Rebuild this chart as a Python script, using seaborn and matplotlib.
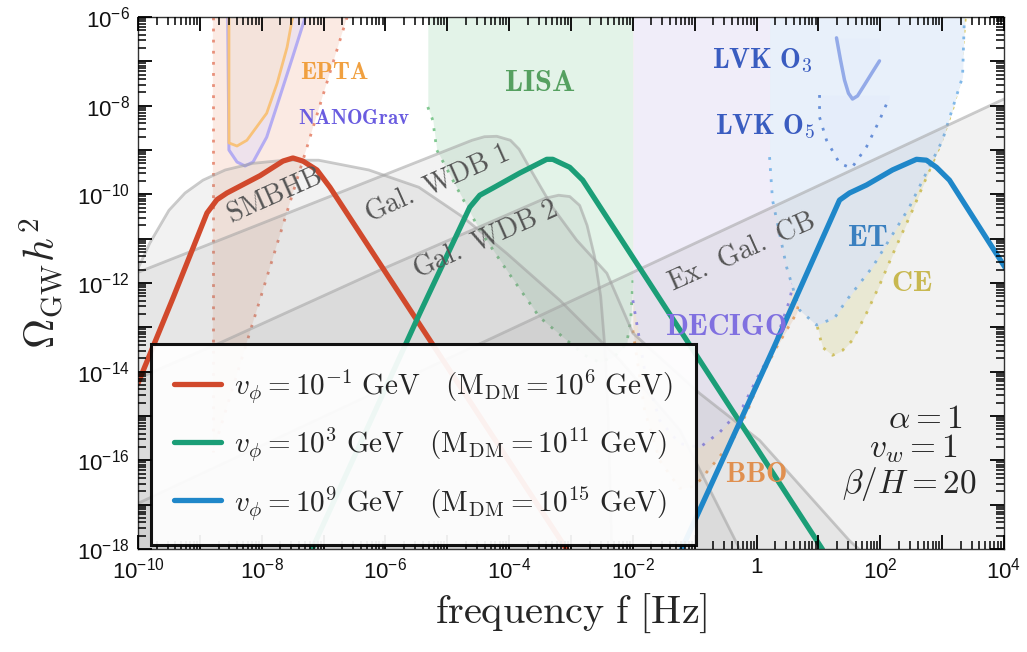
import numpy as np
import pandas as pd
import matplotlib
matplotlib.use("Agg")
import matplotlib.pyplot as plt
from matplotlib import ticker
import seaborn as sns

# ---------------- data (log10 f [Hz], log10 Omega_GW h^2) ----------------
# Signal spectra
red_logf = [-10.0, -9.435, -8.885, -8.724, -8.563, -8.029, -7.657, -7.496, -7.334, -7.108, -6.898, -3.069]
red_logo = [-14.26, -12.34, -10.42, -10.12, -9.97, -9.58, -9.25, -9.18, -9.25, -9.45, -9.84, -18.01]
green_logf = [-7.189, -5.444, -4.637, -4.475, -4.265, -3.829, -3.392, -3.295, -3.021, -2.811, 1.066]
green_logo = [-18.01, -12.68, -10.29, -10.02, -9.86, -9.52, -9.21, -9.21, -9.39, -9.68, -18.01]
blue_logf = [-1.212, 0.258, 1.341, 1.502, 1.777, 2.197, 2.585, 2.746, 2.908, 3.118, 4.087]
blue_logo = [-18.01, -13.52, -10.13, -9.97, -9.79, -9.45, -9.21, -9.23, -9.39, -9.68, -11.80]
signal_labels = [
    r"$v_\phi = 10^{-1}\ \mathrm{GeV}\quad(\mathrm{M_{DM}} = 10^{6}\ \mathrm{GeV})$",
    r"$v_\phi = 10^{3}\ \mathrm{GeV}\quad(\mathrm{M_{DM}} = 10^{11}\ \mathrm{GeV})$",
    r"$v_\phi = 10^{9}\ \mathrm{GeV}\quad(\mathrm{M_{DM}} = 10^{15}\ \mathrm{GeV})$",
]
signal_colors = ["#d1492c", "#1b9e77", "#1f87c9"]

# Astrophysical foregrounds
smbhb_logf = [-10.0, -9.81, -9.50, -9.24, -8.95, -8.59, -8.14, -7.63, -7.08, -6.27, -5.46, -4.75, -4.04, -3.18, -2.21, -1.24, -0.27]
smbhb_logo = [-11.67, -11.10, -10.36, -9.97, -9.68, -9.45, -9.30, -9.23, -9.23, -9.45, -9.84, -10.51, -11.33, -12.39, -13.74, -15.32, -18.01]
wdb1_logf = [-10.0, -4.60, -4.40, -4.20, -3.98, -3.84, -3.65, -3.30, -2.91, -2.42, -2.00, -0.92, 0.05, 1.50, 1.66]
wdb1_logo = [-11.76, -8.78, -8.70, -8.69, -8.78, -8.98, -9.45, -10.29, -11.03, -11.78, -13.13, -14.49, -15.55, -17.81, -18.01]
wdb2_logf = [-10.0, -8.69, -6.09, -3.42, -3.20, -3.02, -2.86, -2.74, -2.62, -2.52, -2.45, -2.40, -2.34]
wdb2_logo = [-14.15, -13.36, -11.71, -10.09, -10.02, -10.05, -10.25, -10.70, -11.40, -12.30, -13.50, -15.00, -18.01]
exgal_logf = [-10.0, 4.0]
exgal_logo = [-16.97, -7.85]

# Detector sensitivity regions
pta_logf = [-8.79, -6.62, -8.79]
pta_logo = [-6.0, -6.0, -15.82]
epta_logf = [-8.53, -8.53, -8.40, -8.24, -7.92, -7.75, -7.59, -7.51, -7.50]
epta_logo = [-6.0, -8.84, -8.91, -8.78, -8.17, -7.49, -6.68, -6.07, -6.0]
nano_logf = [-8.55, -8.53, -8.40, -8.27, -8.14, -7.92, -7.71, -7.50, -7.30, -7.29]
nano_logo = [-6.0, -9.00, -9.27, -9.36, -9.27, -8.71, -7.81, -6.90, -6.02, -6.0]
lisa_logf = [-5.315, -5.234, -5.17, -4.85, -4.475, -4.04, -3.51, -3.07, -2.78, -2.54, -2.29, -2.10, -2.035, -2.0]
lisa_logo = [-8.03, -8.33, -9.00, -9.84, -10.81, -11.71, -12.77, -13.29, -13.63, -13.79, -13.65, -13.36, -12.84, -11.94]
decigo_logf = [-2.0, -1.81, -1.567, -1.244, -0.92, -0.598, -0.226, 0.048, 0.258, 0.533, 0.776, 0.985, 1.18]
decigo_logo = [-12.39, -13.97, -15.10, -15.62, -15.71, -15.37, -14.80, -14.04, -13.52, -12.39, -10.81, -9.00, -6.0]
bbo_logf = [-2.0, -1.81, -1.567, -1.244, -1.00, -0.646, -0.388, -0.162, 0.048, 0.323, 0.646, 0.889, 1.10, 1.31]
bbo_logo = [-13.07, -14.87, -16.00, -16.63, -16.59, -16.00, -15.55, -14.94, -14.19, -13.45, -12.68, -11.26, -9.00, -6.0]
et_logf = [0.21, 0.258, 0.485, 0.695, 0.969, 1.26, 1.454, 1.874, 2.47, 3.005, 3.33, 3.36]
et_logo = [-9.16, -10.13, -11.64, -12.61, -12.95, -12.79, -12.39, -11.64, -10.29, -8.78, -7.35, -6.0]
ce_logf = [0.776, 0.889, 0.969, 1.066, 1.228, 1.389, 1.551, 1.777, 1.987, 2.23, 2.52, 2.956, 3.166, 3.28, 3.344, 3.376]
ce_logo = [-11.26, -12.39, -12.91, -13.45, -13.63, -13.52, -13.29, -12.68, -12.05, -11.26, -10.36, -8.93, -8.10, -7.49, -6.52, -6.0]
o5_logf = [1.018, 1.018, 1.131, 1.341, 1.535, 1.777, 1.987, 2.148]
o5_logo = [-7.76, -8.26, -8.78, -9.30, -9.41, -8.93, -8.33, -7.81]
o5_top = -7.76
o3_logf = [1.292, 1.357, 1.421, 1.486, 1.551, 1.632, 1.745, 1.874, 1.987]
o3_logo = [-6.47, -6.97, -7.42, -7.72, -7.85, -7.78, -7.53, -7.24, -6.99]

# Text labels: (text, log10 f, log10 Omega, colour, size)
det_labels = [
    (r"$\mathbf{EPTA}$", -6.82, -7.26, "#f0a040", 17.5),
    (r"$\mathbf{NANOGrav}$", -6.51, -8.28, "#6a5ce0", 15),
    (r"$\mathbf{LISA}$", -3.51, -7.49, "#55a060", 22),
    (r"$\mathbf{LVK\ O_3}$", 0.10, -6.99, "#3a5cc0", 20),
    (r"$\mathbf{LVK\ O_5}$", 0.145, -8.48, "#3a5cc0", 20),
    (r"$\mathbf{DECIGO}$", -0.50, -13.0, "#8070e0", 21.5),
    (r"$\mathbf{ET}$", 1.79, -10.99, "#3a80c0", 21.5),
    (r"$\mathbf{CE}$", 2.50, -12.00, "#c8b850", 21),
    (r"$\mathbf{BBO}$", 0.0, -16.32, "#e09050", 20.5),
]
fg_labels = [
    (r"$\mathrm{SMBHB}$", -7.79, -10.02),
    (r"$\mathrm{Gal.\ WDB\ 1}$", -5.17, -9.75),
    (r"$\mathrm{Gal.\ WDB\ 2}$", -4.38, -11.03),
    (r"$\mathrm{Ex.\ Gal.\ CB}$", -0.24, -11.30),
]
params_lines = [r"$\alpha = 1$", r"$v_w = 1$", r"$\beta/H = 20$"]

# ---------------- style ----------------
sns.set_theme(style="ticks")
plt.rcParams.update({
    "mathtext.fontset": "cm",
    "font.family": ["Liberation Sans", "DejaVu Sans"],
    "axes.axisbelow": False,
})

fig, ax = plt.subplots(figsize=(10.27, 6.52), dpi=100)
fig.subplots_adjust(left=0.1344, right=0.9776, top=0.9739, bottom=0.158)
ax.set_xscale("log")
ax.set_yscale("log")

P = lambda a: 10.0 ** np.asarray(a, dtype=float)
DOT = (0, (1, 3))
TOP = 1e-5


def detector(lf, lo, face, alpha, edge, top=TOP, ls=DOT, lw=2.0, z=1.0):
    x, y = P(lf), P(lo)
    ax.fill_between(x, y, top, color=face, alpha=alpha, lw=0, zorder=z)
    ax.plot(x, y, color=edge, ls=ls, lw=lw, zorder=z + 0.05)


def foreground(lf, lo):
    x, y = P(lf), P(lo)
    ax.fill_between(x, y, 1e-20, color="gray", alpha=0.1, lw=0, zorder=2)
    ax.plot(x, y, color="#a0a0a0", lw=2.0, alpha=0.55, zorder=2.05)


# PTA wedge
ax.fill(P(pta_logf), P(pta_logo), color="#f4c3b0", alpha=0.35, lw=0, zorder=1)
ax.plot(P([pta_logf[0], pta_logf[2]]), P([pta_logo[0], pta_logo[2]]), color="#e8907a", ls=DOT, lw=2, zorder=1.05)
ax.plot(P(pta_logf[1:]), P(pta_logo[1:]), color="#e8907a", ls=DOT, lw=2, zorder=1.05)
detector(epta_logf, epta_logo, "#fde6c8", 0.45, "#f8c27a", ls="-", lw=2.0, z=1.2)
detector(nano_logf, nano_logo, "#dcd6fa", 0.4, "#b4acf2", ls="-", lw=2.2, z=1.1)
detector(lisa_logf, lisa_logo, "#a8dcb8", 0.32, "#80c890")
detector(bbo_logf, bbo_logo, "#f0c8a0", 0.3, "#f0a868", z=1.0)
detector(decigo_logf, decigo_logo, "#f0edf9", 1.0, "#9088e8", z=1.2)
detector(ce_logf, ce_logo, "#e8e0a0", 0.35, "#d8c860", z=1.3)
detector(et_logf, et_logo, "#e8f0fa", 1.0, "#80b8e8", z=1.4)
detector(o5_logf, o5_logo, "#dde8fb", 0.25, "#6890d8", top=P(o5_top), z=1.5)
ax.fill_between(P(o3_logf), P(o3_logo), P(o3_logo[0]), color="#e4ebfb", alpha=0.3, lw=0, zorder=1.6)
ax.plot(P(o3_logf), P(o3_logo), color="#93aae8", lw=2.5, zorder=1.65)

# foregrounds
for lf, lo in [(smbhb_logf, smbhb_logo), (wdb1_logf, wdb1_logo), (wdb2_logf, wdb2_logo), (exgal_logf, exgal_logo)]:
    foreground(lf, lo)

# signal curves via seaborn
handles = []
for lf, lo, col, lab in zip([red_logf, green_logf, blue_logf], [red_logo, green_logo, blue_logo],
                            signal_colors, signal_labels):
    df = pd.DataFrame({"f": P(lf), "omega": P(lo)})
    sns.lineplot(data=df, x="f", y="omega", ax=ax, color=col, lw=3.8, sort=False,
                 estimator=None, zorder=5, label=lab)
    handles.append(ax.lines[-1])

# labels
for txt, lf, lo, col, fs in det_labels:
    ax.text(P(lf), P(lo), txt, color=col, fontsize=fs, ha="center", va="center", zorder=6)
for txt, lf, lo in fg_labels:
    ax.text(P(lf), P(lo), txt, color="#555555", fontsize=20, ha="center", va="center",
            rotation=24, rotation_mode="anchor", zorder=6)
for txt, xa, ya in zip(params_lines, [0.9527, 0.9469, 0.969], [0.2274, 0.1729, 0.1053]):
    ax.text(xa, ya, txt, transform=ax.transAxes, fontsize=24, ha="right", va="baseline", zorder=6)

ax.set_xlim(1e-10, 1e4)
ax.set_ylim(1e-18, 1e-6)


def fmt(v, pos):
    e = int(round(np.log10(v)))
    if e % 2:
        return ""
    if e == 0:
        return r"$\mathdefault{1}$"
    return r"$\mathdefault{10^{%d}}$" % e


for axis in (ax.xaxis, ax.yaxis):
    axis.set_major_locator(ticker.LogLocator(base=10.0, subs=(1.0,), numticks=40))
    axis.set_minor_locator(ticker.LogLocator(base=10.0, subs=tuple(np.arange(2, 10) * 1.0), numticks=40))
    axis.set_major_formatter(ticker.FuncFormatter(fmt))
    axis.set_minor_formatter(ticker.NullFormatter())
    axis.set_zorder(8)
ax.tick_params(axis="both", which="both", direction="in", bottom=True, left=True, top=True, right=True,
               colors="black")
ax.tick_params(axis="both", which="major", length=10, width=1.3, labelsize=16, pad=6, labelcolor="#111111")
ax.tick_params(axis="both", which="minor", length=5.5, width=1.1)
for s in ax.spines.values():
    s.set_color("#333333")
    s.set_linewidth(1.0)
    s.set_zorder(7)

ax.set_xlabel(r"$\mathrm{frequency\ f\ [Hz]}$", fontsize=29, labelpad=6)
ax.set_ylabel(r"$\Omega_{\rm GW}h^2$", fontsize=30, labelpad=8)

leg = ax.legend(handles=handles, labels=signal_labels, loc="lower left", bbox_to_anchor=(0.015, 0.0075),
                borderaxespad=0, fontsize=21, frameon=True, fancybox=False, edgecolor="black",
                framealpha=0.93, facecolor="white", handlelength=1.6, handletextpad=0.45,
                labelspacing=0.7, borderpad=0.8)
leg.get_frame().set_linewidth(2.2)
leg.set_zorder(10)

fig.savefig("out.png", dpi=100)
